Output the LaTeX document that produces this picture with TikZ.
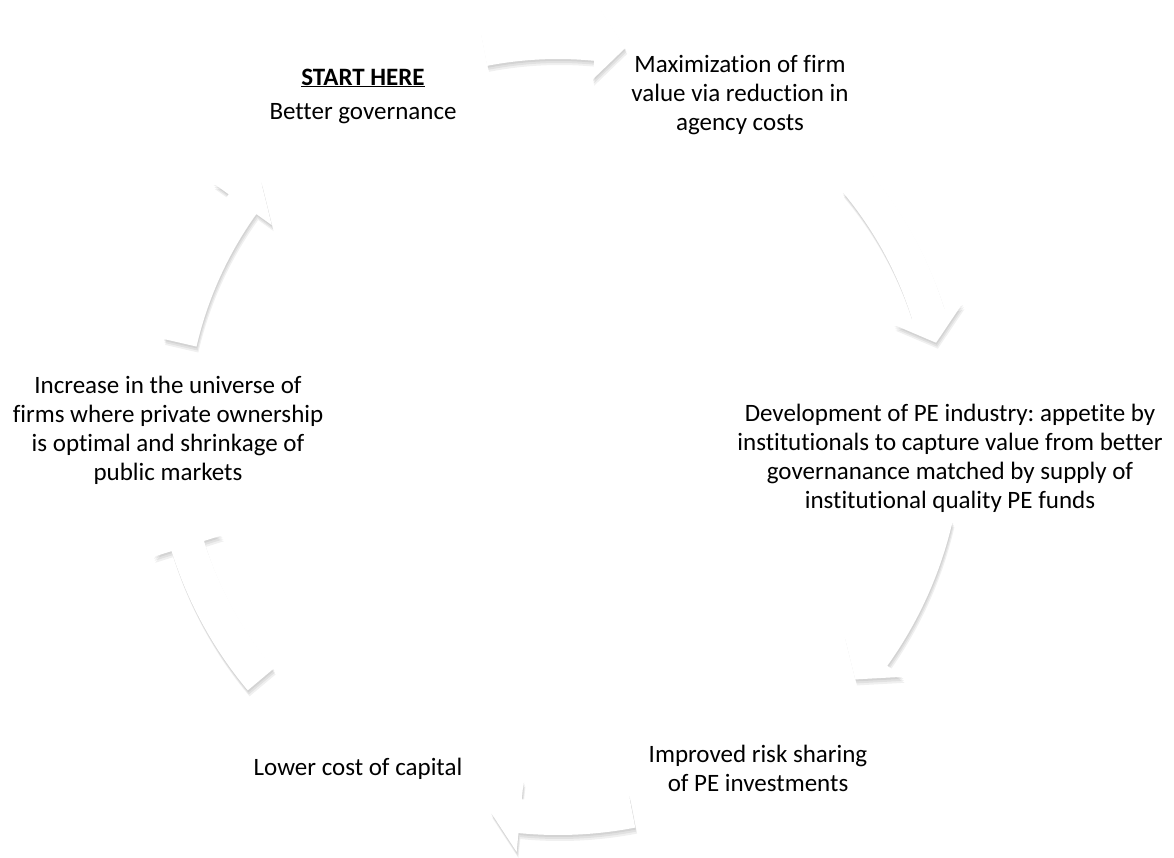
\documentclass[tikz,border=0pt]{standalone}
\usepackage{fontspec}
\setmainfont[Ligatures=NoCommon]{Carlito}
\usetikzlibrary{calc}
\frenchspacing

% block arrow on the ring, from angle #1 to tip at angle #2
\newcommand\ringarrow[2]{%
    (#1:405) arc[start angle=#1, end angle=#2-4.4, radius=405]
    -- (#2-4.4:424) -- (#2:388) -- (#2-4.4:352) -- (#2-4.4:371)
    arc[start angle=#2-4.4, end angle=#1, radius=371] -- cycle}

\tikzset{
    label text/.style={align=center, inner sep=0pt, font=\fontsize{25}{29}\selectfont},
    ring arrow/.style={fill=white},
    ring shadow/.style={fill=black, opacity=0.06},
}

\begin{document}
\begin{tikzpicture}[x=1pt, y=-1pt]

    \useasboundingbox (0,0) rectangle (1174,857);
    \fill[white] (0,0) rectangle (1174,857);

    % the six curved arrows around the hub, soft shadow first
    \coordinate (hub) at (558,430);
    \foreach \s in {2,4,6} {
        \begin{scope}[shift={($(hub)+(0.3*\s,\s)$)}]
        \foreach \a/\b in {-101/-80, -40/-13, 13/40, 79/100, 140/167, 193/220}
            \path[ring shadow] \ringarrow{\a}{\b};
        \end{scope}
    }
    \begin{scope}[shift={(hub)}]
    \foreach \a/\b in {-101/-80, -40/-13, 13/40, 79/100, 140/167, 193/220}
        \path[ring arrow] \ringarrow{\a}{\b};
    \end{scope}

    \node[label text] (govern) at (363,96)
        {\underline{\textbf{START HERE}}\\[5pt]Better governance};
    \node[label text] (maxval) at (740,95)
        {Maximization of firm\\value via reduction in\\agency costs};
    \node[label text] (peind) at (950,458)
        {Development of PE industry: appetite by\\institutionals to capture value from better\\governanance matched by supply of\\institutional quality PE funds};
    \node[label text] (risk) at (758,768)
        {Improved risk sharing\\of PE investments};
    \node[label text] (lowcost) at (358,769) {Lower cost of capital};
    \node[label text] (universe) at (168,430)
        {Increase in the universe of\\firms where private ownership\\is optimal and shrinkage of\\public markets};
\end{tikzpicture}
\end{document}
